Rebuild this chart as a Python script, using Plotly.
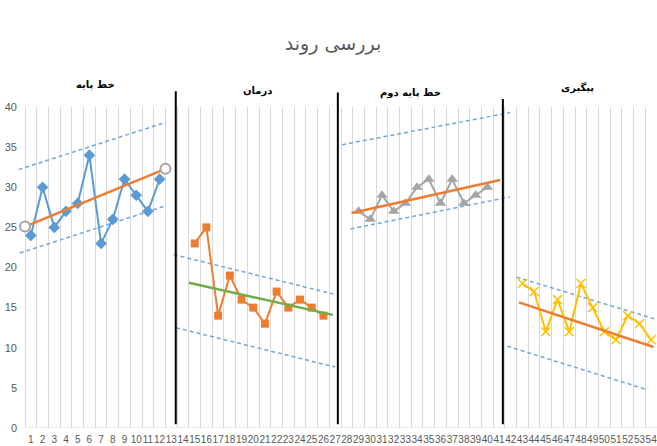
import plotly.graph_objects as go

# ---------------- data ----------------
categories = list(range(1, 55))
tick_labels = [str(c) for c in categories]

baseline_x = list(range(1, 13))
baseline_y = [24, 30, 25, 27, 28, 34, 23, 26, 31, 29, 27, 31]

treatment_x = list(range(15, 27))
treatment_y = [23, 25, 14, 19, 16, 15, 13, 17, 15, 16, 15, 14]

baseline2_x = list(range(29, 41))
baseline2_y = [27, 26, 29, 27, 28, 30, 31, 28, 31, 28, 29, 30]

followup_x = list(range(43, 55))
followup_y = [18, 17, 12, 16, 12, 18, 15, 12, 11, 14, 13, 11]

# trend lines (start/end)
base_trend_x = [0.5, 12.5]
base_trend_y = [25.1, 32.3]
base_upper_x = [-0.05, 12.55]
base_upper_y = [32.2, 38.1]
base_lower_x = [0.05, 12.55]
base_lower_y = [21.8, 27.7]

treat_trend_x = [14.5, 26.8]
treat_trend_y = [18.1, 14.1]
treat_upper_x = [13.2, 26.85]
treat_upper_y = [21.6, 16.7]
treat_lower_x = [13.4, 27.0]
treat_lower_y = [12.5, 7.6]

base2_trend_x = [28.4, 41.1]
base2_trend_y = [26.8, 30.9]
base2_upper_x = [27.6, 41.95]
base2_upper_y = [35.3, 39.3]
base2_lower_x = [28.3, 41.95]
base2_lower_y = [24.8, 28.8]

follow_trend_x = [42.7, 54.2]
follow_trend_y = [15.65, 10.1]
follow_upper_x = [42.5, 54.5]
follow_upper_y = [18.8, 13.5]
follow_lower_x = [41.7, 53.6]
follow_lower_y = [10.2, 4.8]

# phase change lines
phase_lines_x = [13.38, 27.23, 41.33]
phase_lines_top = [41.95, 41.8, 41.0]
phase_lines_bottom = 0.46

phase_names = ["خط پایه", "درمان", "خط پایه دوم", "پیگیری"]
phase_label_x = [6.5, 20.4, 33.4, 47.7]
phase_label_y = [42.8, 42.0, 41.8, 42.4]

title_text = "بررسی روند"
y_ticks = [0, 5, 10, 15, 20, 25, 30, 35, 40]
Y_MAX = 40

# ---------------- styles ----------------
BLUE = "#5B9BD5"
ORANGE = "#ED7D31"
GRAY = "#A5A5A5"
GOLD = "#FFC000"
GREEN = "#70AD47"
DASH_BLUE = "#6FA8DC"
TXT = "#595959"
AR_FONT = "DejaVu Sans"

fig = go.Figure()

def dashed(x, y):
    fig.add_trace(go.Scatter(x=x, y=y, mode="lines",
                             line=dict(color=DASH_BLUE, width=1.5, dash="4px,3px"),
                             hoverinfo="skip", showlegend=False))

for xs, ys in [(base_upper_x, base_upper_y), (base_lower_x, base_lower_y),
               (treat_upper_x, treat_upper_y), (treat_lower_x, treat_lower_y),
               (base2_upper_x, base2_upper_y), (base2_lower_x, base2_lower_y),
               (follow_upper_x, follow_upper_y), (follow_lower_x, follow_lower_y)]:
    dashed(xs, ys)

fig.add_trace(go.Scatter(x=baseline_x, y=baseline_y, mode="lines+markers",
                         line=dict(color=BLUE, width=2),
                         marker=dict(symbol="diamond", size=9, color=BLUE),
                         showlegend=False))
fig.add_trace(go.Scatter(x=treatment_x, y=treatment_y, mode="lines+markers",
                         line=dict(color=ORANGE, width=2),
                         marker=dict(symbol="square", size=8, color=ORANGE),
                         showlegend=False))
fig.add_trace(go.Scatter(x=baseline2_x, y=baseline2_y, mode="lines+markers",
                         line=dict(color=GRAY, width=2),
                         marker=dict(symbol="triangle-up", size=10, color=GRAY),
                         showlegend=False))
fig.add_trace(go.Scatter(x=followup_x, y=followup_y, mode="lines+markers",
                         line=dict(color=GOLD, width=2),
                         marker=dict(symbol="x-thin", size=9,
                                     line=dict(color=GOLD, width=1.5)),
                         showlegend=False))

fig.add_trace(go.Scatter(x=base_trend_x, y=base_trend_y, mode="lines+markers",
                         line=dict(color=ORANGE, width=2.5),
                         marker=dict(symbol="circle", size=10, color="white",
                                     line=dict(color=GRAY, width=2)),
                         cliponaxis=False, showlegend=False))
fig.add_trace(go.Scatter(x=treat_trend_x, y=treat_trend_y, mode="lines",
                         line=dict(color=GREEN, width=2.5), showlegend=False))
fig.add_trace(go.Scatter(x=base2_trend_x, y=base2_trend_y, mode="lines",
                         line=dict(color=ORANGE, width=2.5), showlegend=False))
fig.add_trace(go.Scatter(x=follow_trend_x, y=follow_trend_y, mode="lines",
                         line=dict(color=ORANGE, width=2.5), showlegend=False))

shapes = []
# horizontal category axis line
shapes.append(dict(type="line", xref="x", yref="y", x0=0.5, x1=54.5, y0=0, y1=0,
                   line=dict(color="#D9D9D9", width=1), layer="below"))
for px, top in zip(phase_lines_x, phase_lines_top):
    shapes.append(dict(type="line", xref="x", yref="paper", x0=px, x1=px,
                       y0=phase_lines_bottom / Y_MAX, y1=top / Y_MAX,
                       line=dict(color="black", width=2)))

annotations = []
for name, ax, ay in zip(phase_names, phase_label_x, phase_label_y):
    annotations.append(dict(x=ax, y=ay / Y_MAX, xref="x", yref="paper",
                            text="<b>%s</b>" % name,
                            showarrow=False, xanchor="center", yanchor="middle",
                            font=dict(family=AR_FONT, size=10, color="black")))

fig.update_layout(
    width=657, height=446,
    margin=dict(l=18, r=0, t=107, b=18),
    paper_bgcolor="white", plot_bgcolor="white",
    title=dict(text=title_text, x=333 / 657, xref="container", xanchor="center",
               y=1 - 43 / 446, yref="container", yanchor="middle",
               font=dict(family=AR_FONT, size=19, color=TXT)),
    shapes=shapes, annotations=annotations,
    xaxis=dict(range=[-0.1, 54.5], tickmode="array", tickvals=categories,
               ticktext=tick_labels, tickangle=0, showgrid=False, zeroline=False,
               showline=False, ticks="", ticklabelstandoff=4,
               ticklabeloverflow="allow",
               tickfont=dict(family="Liberation Sans", size=10, color=TXT),
               minor=dict(tickmode="linear", tick0=0.5, dtick=1, showgrid=True,
                          gridcolor="#D9D9D9", gridwidth=1, ticks="")),
    yaxis=dict(range=[0, Y_MAX], tickmode="array", tickvals=y_ticks,
               showgrid=False, zeroline=False, showline=False, ticks="",
               tickfont=dict(family="Liberation Sans", size=11, color=TXT)),
)

fig.write_html("out.html", config={"displayModeBar": False},
               post_script="document.body.style.margin='0';")
